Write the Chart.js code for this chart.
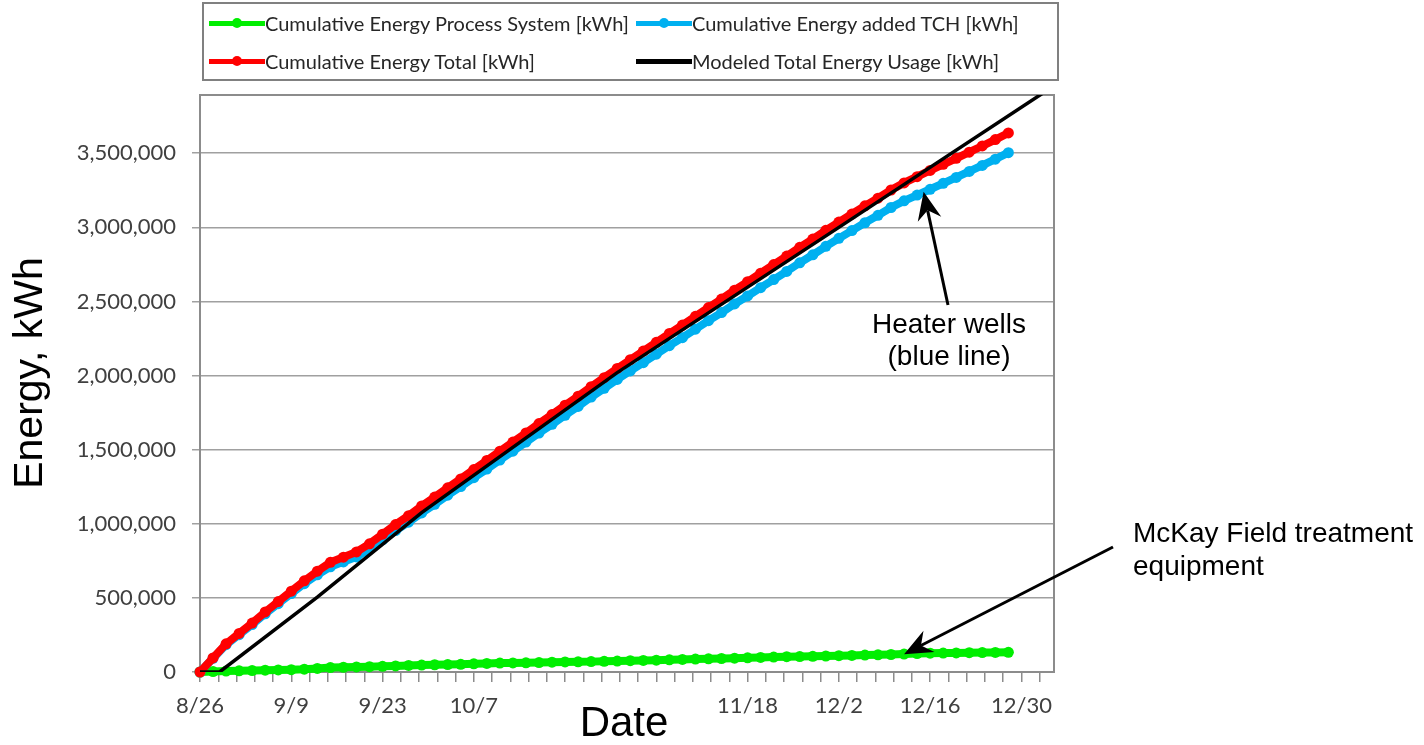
<!DOCTYPE html>
<html>
<head>
<meta charset="utf-8">
<script src="https://cdn.jsdelivr.net/npm/chart.js@4.4.0/dist/chart.umd.min.js"></script>
<style>
  html, body { margin: 0; padding: 0; background: #fff; }
  #wrap { position: relative; width: 1424px; height: 745px; }
  #legend {
    position: absolute; left: 202px; top: 2px; width: 853px; height: 75px;
    border: 2px solid #808080; font-family: Lato, "Open Sans", sans-serif;
    font-size: 20px; color: #262626;
  }
  .item { position: absolute; display: flex; align-items: center; height: 24px; white-space: nowrap; }
  .swatch { position: relative; width: 56px; height: 24px; }
  .swatch .ln { position: absolute; left: 0; right: 0; top: 9.5px; height: 5px; }
  .swatch .dot { position: absolute; left: 23px; top: 7px; width: 10px; height: 10px; border-radius: 50%; }
</style>
</head>
<body>
<div id="wrap">
  <canvas id="energyChart" width="1424" height="745"></canvas>
  <div id="legend"></div>
</div>
<script>
// days after 8/26
const days = [0, 2, 4, 6, 8, 10, 12, 14, 16, 18,
  20, 22, 24, 26, 28, 30, 32, 34, 36, 38,
  40, 42, 44, 46, 48, 50, 52, 54, 56, 58,
  60, 62, 64, 66, 68, 70, 72, 74, 76, 78,
  80, 82, 84, 86, 88, 90, 92, 94, 96, 98,
  100, 102, 104, 106, 108, 110, 112, 114, 116, 118,
  120, 122, 124];

const processSystem = [0, 3000, 6000, 8000, 10000, 12000, 14000, 16000, 19000, 24000,
  30000, 32000, 34000, 36000, 38000, 41000, 44000, 47000, 49000, 50000,
  52000, 55000, 58000, 60000, 61000, 62000, 64000, 66000, 68000, 69000,
  70000, 72000, 74000, 76000, 78000, 80000, 82000, 85000, 87000, 89000,
  91000, 93000, 96000, 98000, 101000, 103000, 104000, 106000, 108000, 110000,
  112000, 114000, 116000, 118000, 121000, 124000, 127000, 128000, 129000, 130000,
  131000, 132000, 133000];

const addedTCH = [0, 92000, 184000, 252000, 320000, 393000, 461000, 529000, 596000, 656000,
  710000, 743000, 776000, 829000, 892000, 954000, 1011000, 1073000, 1131000, 1193000,
  1251000, 1311000, 1369000, 1430000, 1490000, 1551000, 1612000, 1671000, 1732000, 1792000,
  1855000, 1914000, 1974000, 2031000, 2087000, 2144000, 2202000, 2256000, 2313000, 2370000,
  2425000, 2483000, 2537000, 2593000, 2648000, 2703000, 2761000, 2815000, 2872000, 2926000,
  2978000, 3031000, 3081000, 3134000, 3179000, 3218000, 3257000, 3297000, 3337000, 3377000,
  3418000, 3460000, 3504000];

const energyTotal = [0, 95000, 190000, 260000, 330000, 405000, 475000, 545000, 615000, 680000,
  740000, 775000, 810000, 865000, 930000, 995000, 1055000, 1120000, 1180000, 1243000,
  1303000, 1366000, 1427000, 1490000, 1551000, 1613000, 1676000, 1737000, 1800000, 1861000,
  1925000, 1986000, 2048000, 2107000, 2165000, 2224000, 2284000, 2341000, 2400000, 2459000,
  2516000, 2576000, 2633000, 2691000, 2749000, 2806000, 2865000, 2921000, 2980000, 3036000,
  3090000, 3145000, 3197000, 3252000, 3300000, 3342000, 3384000, 3425000, 3466000, 3507000,
  3549000, 3592000, 3637000];

const modelDays = [0, 3, 18, 34, 64, 98, 131];
const modelEnergy = [0, 0, 505000, 1075000, 2020000, 3000000, 3955000];

// one label every 14 days, two are blank on the original
const xTickLabels = ['8/26', '9/9', '9/23', '10/7', '', '', '11/18', '12/2', '12/16', '12/30'];
const yTicks = [0, 500000, 1000000, 1500000, 2000000, 2500000, 3000000, 3500000];

function pts(xs, ys) {
  return xs.map((d, i) => ({ x: d, y: ys[i] }));
}

function drawArrow(ctx, x0, y0, x1, y1) {
  const a = Math.atan2(y1 - y0, x1 - x0);
  const ux = Math.cos(a), uy = Math.sin(a);
  const len = 28, half = 12, notch = 19;
  const bx = x1 - ux * len, by = y1 - uy * len;
  ctx.beginPath();
  ctx.moveTo(x0, y0);
  ctx.lineTo(x1 - ux * notch, y1 - uy * notch);
  ctx.lineWidth = 3;
  ctx.strokeStyle = '#000';
  ctx.stroke();
  ctx.beginPath();
  ctx.moveTo(x1, y1);
  ctx.lineTo(bx - uy * half, by + ux * half);
  ctx.lineTo(x1 - ux * notch, y1 - uy * notch);
  ctx.lineTo(bx + uy * half, by - ux * half);
  ctx.closePath();
  ctx.fillStyle = '#000';
  ctx.fill();
}

// grey frame round the plot area
const frame = {
  id: 'frame',
  beforeDatasetsDraw(chart) {
    const { ctx, chartArea: a } = chart;
    ctx.save();
    ctx.strokeStyle = '#8c8c8c';
    ctx.lineWidth = 2;
    ctx.strokeRect(a.left, a.top, a.right - a.left, a.bottom - a.top);
    ctx.restore();
  }
};

// axis titles, notes and arrows
const notes = {
  id: 'notes',
  afterDraw(chart) {
    const { ctx } = chart;
    const x = chart.scales.x, y = chart.scales.y;
    ctx.save();
    ctx.fillStyle = '#000';
    ctx.font = '28px "Liberation Sans", Arial, sans-serif';
    ctx.textBaseline = 'middle';
    ctx.textAlign = 'center';
    ctx.fillText('Heater wells', 949, 325);
    ctx.fillText('(blue line)', 949, 357);
    ctx.textAlign = 'left';
    ctx.fillText('McKay Field treatment', 1133, 534);
    ctx.fillText('equipment', 1133, 567);
    drawArrow(ctx, 948, 305, x.getPixelForValue(111), y.getPixelForValue(3240000));
    drawArrow(ctx, 1113, 547, x.getPixelForValue(108), y.getPixelForValue(120000));

    ctx.font = '42px "Liberation Sans", Arial, sans-serif';
    ctx.textAlign = 'center';
    ctx.fillText('Date', 624, 724);
    ctx.translate(31, 373);
    ctx.rotate(-Math.PI / 2);
    ctx.font = '41px "Liberation Sans", Arial, sans-serif';
    ctx.fillText('Energy, kWh', 0, 0);
    ctx.restore();
  }
};

const chart = new Chart(document.getElementById('energyChart'), {
  type: 'line',
  data: {
    datasets: [
      { label: 'Cumulative Energy Process System [kWh]', data: pts(days, processSystem),
        borderColor: '#00ee00', backgroundColor: '#00ee00', borderWidth: 8,
        pointRadius: 5.5, pointBorderWidth: 0, order: 3, clip: 8 },
      { label: 'Cumulative Energy added TCH [kWh]', data: pts(days, addedTCH),
        borderColor: '#00b0f0', backgroundColor: '#00b0f0', borderWidth: 8,
        pointRadius: 5.5, pointBorderWidth: 0, order: 2, clip: 8 },
      { label: 'Cumulative Energy Total [kWh]', data: pts(days, energyTotal),
        borderColor: '#ff0000', backgroundColor: '#ff0000', borderWidth: 8,
        pointRadius: 5.5, pointBorderWidth: 0, order: 1, clip: 8 },
      { label: 'Modeled Total Energy Usage [kWh]', data: pts(modelDays, modelEnergy),
        borderColor: '#000000', backgroundColor: '#000000', borderWidth: 3.5,
        pointRadius: 0, order: 0 }
    ]
  },
  options: {
    responsive: false,
    animation: false,
    layout: { padding: { left: 0, right: 370, top: 95, bottom: 0 } },
    plugins: { legend: { display: false }, tooltip: { enabled: false } },
    scales: {
      x: {
        type: 'linear', min: 0, max: 131,
        afterBuildTicks: s => {
          s.ticks = [];
          for (let i = 0; i * 2.8 <= 131; i++) s.ticks.push({ value: i * 2.8 });
        },
        afterFit: s => { s.height = 73; },
        ticks: {
          autoSkip: false, maxRotation: 0, padding: 11, color: '#404040',
          font: { family: 'Lato', size: 22 },
          callback: (v, i) => (i % 5 === 0 ? (xTickLabels[i / 5] || '') : '')
        },
        grid: { drawOnChartArea: false, tickLength: 10, color: '#8c8c8c', lineWidth: 1.5 },
        border: { color: '#8c8c8c', width: 2 }
      },
      y: {
        min: 0, max: 3893000,
        afterBuildTicks: s => { s.ticks = yTicks.map(v => ({ value: v })); },
        afterFit: s => { s.width = 200; },
        ticks: {
          padding: 16, color: '#404040', font: { family: 'Lato', size: 22 },
          callback: v => v.toLocaleString('en-US')
        },
        grid: { color: '#a0a0a0', lineWidth: 1.5, tickLength: 8 },
        border: { color: '#8c8c8c', width: 2 }
      }
    }
  },
  plugins: [frame, notes]
});

// legend in two columns like the original
const legendDiv = document.getElementById('legend');
chart.data.datasets.forEach((ds, i) => {
  const item = document.createElement('div');
  item.className = 'item';
  item.style.left = (i % 2 === 0 ? 5 : 432) + 'px';
  item.style.top = (i < 2 ? 7 : 45) + 'px';
  const sw = document.createElement('span');
  sw.className = 'swatch';
  const ln = document.createElement('span');
  ln.className = 'ln';
  ln.style.background = ds.borderColor;
  sw.appendChild(ln);
  if (ds.pointRadius > 0) {
    const dot = document.createElement('span');
    dot.className = 'dot';
    dot.style.background = ds.borderColor;
    sw.appendChild(dot);
  }
  const txt = document.createElement('span');
  txt.textContent = ds.label;
  item.appendChild(sw);
  item.appendChild(txt);
  legendDiv.appendChild(item);
});
</script>
</body>
</html>
